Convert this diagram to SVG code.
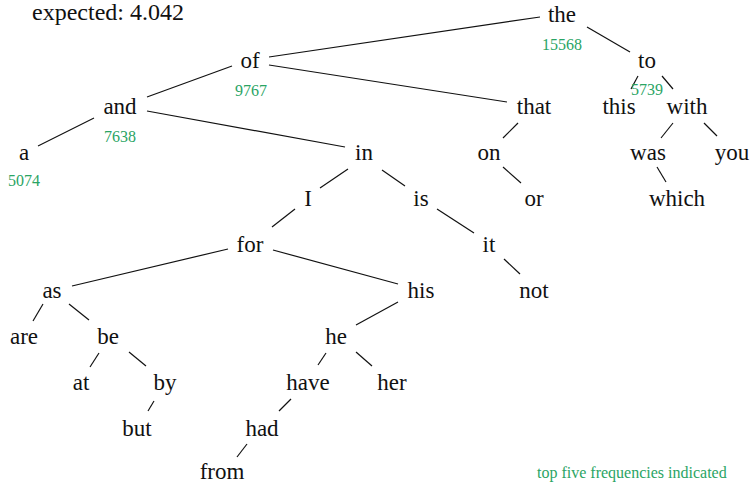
<svg xmlns="http://www.w3.org/2000/svg" width="753" height="483" viewBox="0 0 753 483">
<style>
.n{font-family:"Liberation Serif","Times New Roman",serif;font-size:23px;fill:#111;text-anchor:middle}
.f{font-family:"Liberation Serif","Times New Roman",serif;font-size:16px;fill:#2aa464;text-anchor:middle}
.t{font-family:"Liberation Serif","Times New Roman",serif;font-size:24px;fill:#111}
#edges line{stroke:#111;stroke-width:1.2}
</style>
<rect width="753" height="483" fill="#fff"/>
<text class="t" x="32" y="20">expected: 4.042</text>
<g id="edges">
<line x1="269" y1="57" x2="540" y2="17"/>
<line x1="269" y1="65" x2="507" y2="102"/>
<line x1="587" y1="27" x2="630" y2="52"/>
<line x1="147" y1="97" x2="232" y2="66"/>
<line x1="38" y1="146" x2="94" y2="118"/>
<line x1="147" y1="111" x2="345" y2="147"/>
<line x1="638" y1="76" x2="631" y2="89"/>
<line x1="662" y1="76" x2="673" y2="89"/>
<line x1="673" y1="123" x2="661" y2="138"/>
<line x1="704" y1="123" x2="717" y2="136"/>
<line x1="657" y1="167" x2="666" y2="182"/>
<line x1="518" y1="123" x2="503" y2="138"/>
<line x1="503" y1="167" x2="521" y2="183"/>
<line x1="348" y1="169" x2="320" y2="188"/>
<line x1="382" y1="170" x2="405" y2="186"/>
<line x1="295" y1="209" x2="272" y2="227"/>
<line x1="437" y1="209" x2="474" y2="233"/>
<line x1="504" y1="259" x2="520" y2="274"/>
<line x1="228" y1="249" x2="72" y2="286"/>
<line x1="273" y1="250" x2="398" y2="284"/>
<line x1="43" y1="304" x2="33" y2="321"/>
<line x1="69" y1="304" x2="89" y2="320"/>
<line x1="99" y1="353" x2="90" y2="367"/>
<line x1="129" y1="352" x2="146" y2="366"/>
<line x1="154" y1="401" x2="148" y2="411"/>
<line x1="398" y1="302" x2="356" y2="325"/>
<line x1="326" y1="353" x2="318" y2="365"/>
<line x1="356" y1="352" x2="372" y2="366"/>
<line x1="291" y1="399" x2="279" y2="411"/>
<line x1="247" y1="444" x2="237" y2="457"/>
</g>
<g id="node-the"><text class="n" x="562" y="22">the</text><text class="f" x="562" y="50">15568</text></g>
<g id="node-of"><text class="n" x="250" y="68">of</text><text class="f" x="251" y="96">9767</text></g>
<g id="node-to"><text class="n" x="647" y="68">to</text><text class="f" x="647" y="95">5739</text></g>
<g id="node-and"><text class="n" x="120" y="114">and</text><text class="f" x="120" y="142">7638</text></g>
<g id="node-that"><text class="n" x="534" y="114">that</text></g>
<g id="node-this"><text class="n" x="619" y="114">this</text></g>
<g id="node-with"><text class="n" x="687" y="114">with</text></g>
<g id="node-a"><text class="n" x="24" y="160">a</text><text class="f" x="24" y="186">5074</text></g>
<g id="node-in"><text class="n" x="364" y="160">in</text></g>
<g id="node-on"><text class="n" x="489" y="160">on</text></g>
<g id="node-was"><text class="n" x="648" y="160">was</text></g>
<g id="node-you"><text class="n" x="732" y="160">you</text></g>
<g id="node-I"><text class="n" x="308" y="206">I</text></g>
<g id="node-is"><text class="n" x="421" y="206">is</text></g>
<g id="node-or"><text class="n" x="534" y="206">or</text></g>
<g id="node-which"><text class="n" x="677" y="206">which</text></g>
<g id="node-for"><text class="n" x="250" y="252">for</text></g>
<g id="node-it"><text class="n" x="489" y="252">it</text></g>
<g id="node-as"><text class="n" x="52" y="298">as</text></g>
<g id="node-his"><text class="n" x="421" y="298">his</text></g>
<g id="node-not"><text class="n" x="534" y="298">not</text></g>
<g id="node-are"><text class="n" x="24" y="344">are</text></g>
<g id="node-be"><text class="n" x="108" y="344">be</text></g>
<g id="node-he"><text class="n" x="336" y="344">he</text></g>
<g id="node-at"><text class="n" x="81" y="390">at</text></g>
<g id="node-by"><text class="n" x="165" y="390">by</text></g>
<g id="node-have"><text class="n" x="308" y="390">have</text></g>
<g id="node-her"><text class="n" x="392" y="390">her</text></g>
<g id="node-but"><text class="n" x="137" y="436">but</text></g>
<g id="node-had"><text class="n" x="262" y="436">had</text></g>
<g id="node-from"><text class="n" x="222" y="479">from</text></g>
<text class="f" x="537" y="478" style="text-anchor:start">top five frequencies indicated</text>
</svg>
